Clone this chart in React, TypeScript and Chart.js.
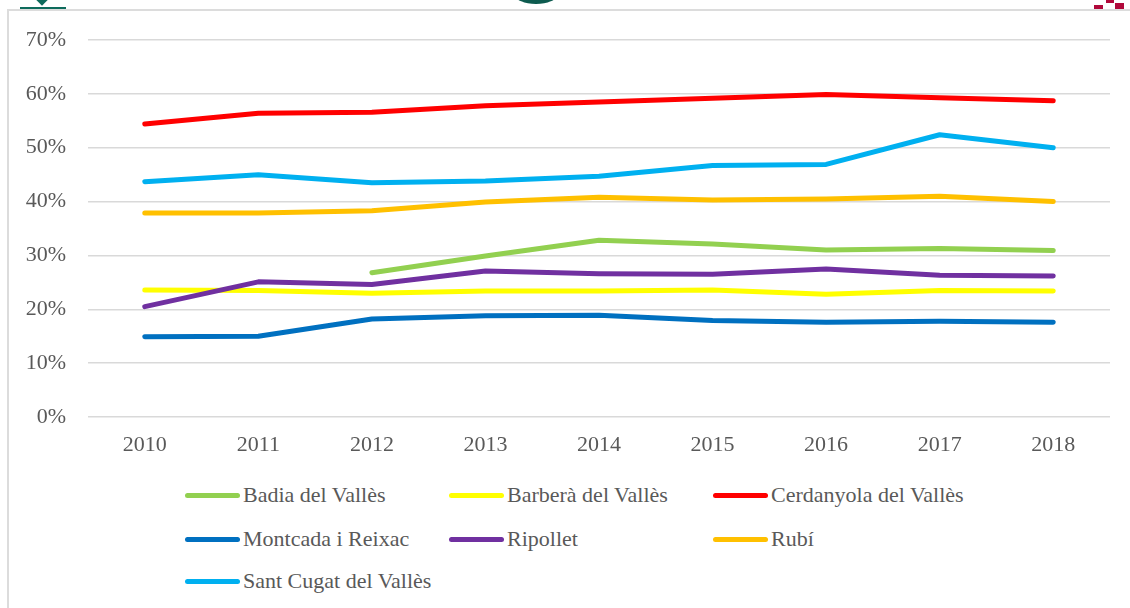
import React, { useEffect, useRef } from "react";
import { Chart, registerables } from "chart.js";

Chart.register(...registerables);

const years = ["2010", "2011", "2012", "2013", "2014", "2015", "2016", "2017", "2018"];

const badia = [null, null, 26.8, 29.9, 32.8, 32.1, 31.0, 31.3, 30.9];
const barbera = [23.6, 23.5, 23.0, 23.4, 23.4, 23.6, 22.8, 23.5, 23.4];
const cerdanyola = [54.4, 56.4, 56.6, 57.8, 58.5, 59.2, 59.9, 59.3, 58.7];
const montcada = [14.9, 15.0, 18.2, 18.8, 18.9, 17.9, 17.6, 17.8, 17.6];
const ripollet = [20.5, 25.1, 24.6, 27.1, 26.6, 26.5, 27.5, 26.3, 26.2];
const rubi = [37.9, 37.9, 38.3, 39.9, 40.8, 40.3, 40.5, 41.0, 40.0];
const santCugat = [43.7, 45.0, 43.5, 43.8, 44.7, 46.7, 46.9, 52.4, 50.0];

const seriesNames = [
  "Badia del Vallès",
  "Barberà del Vallès",
  "Cerdanyola del Vallès",
  "Montcada i Reixac",
  "Ripollet",
  "Rubí",
  "Sant Cugat del Vallès",
];
const seriesValues = [badia, barbera, cerdanyola, montcada, ripollet, rubi, santCugat];
const seriesColors = ["#92D050", "#FFFF00", "#FF0000", "#0070C0", "#7030A0", "#FFC000", "#00B0F0"];

const yTicks = [0, 10, 20, 30, 40, 50, 60, 70];

const FONT = "'Liberation Serif', 'Times New Roman', serif";
const TEXT = "#595959";

export default function App() {
  const ref = useRef<HTMLCanvasElement | null>(null);

  useEffect(() => {
    document.documentElement.style.overflow = "hidden";
    document.body.style.overflow = "hidden";
    const canvas = ref.current;
    if (!canvas) return;
    const chart = new Chart(canvas, {
      type: "line",
      data: {
        labels: years,
        datasets: seriesNames.map((name, i) => ({
          label: name,
          data: seriesValues[i].map((v) => (v === null ? null : v / 100)),
          borderColor: seriesColors[i],
          backgroundColor: seriesColors[i],
          borderWidth: 5,
          borderCapStyle: "round" as const,
          borderJoinStyle: "round" as const,
          pointRadius: 0,
          pointHoverRadius: 0,
          tension: 0,
          fill: false,
          order: seriesNames.length - 1 - i,
        })),
      },
      options: {
        responsive: false,
        animation: false,
        layout: { padding: { left: 0, right: 20, top: 39, bottom: 0 } },
        plugins: {
          legend: { display: false },
          tooltip: { enabled: false },
        },
        scales: {
          x: {
            type: "category",
            offset: true,
            grid: { display: false, drawTicks: false },
            border: { display: false },
            ticks: {
              font: { family: FONT, size: 22 },
              color: TEXT,
              padding: 15,
              maxRotation: 0,
            },
            afterFit: (s: any) => {
              s.height = 44;
            },
          },
          y: {
            min: 0,
            max: 0.7,
            afterBuildTicks: (s: any) => {
              s.ticks = yTicks.map((t) => ({ value: t / 100 }));
            },
            grid: { color: "#D9D9D9", lineWidth: 1.5, drawTicks: false },
            border: { display: false },
            ticks: {
              font: { family: FONT, size: 22 },
              color: TEXT,
              padding: 22,
              callback: (v: any) => Math.round(Number(v) * 100) + "%",
            },
            afterFit: (s: any) => {
              s.width = 88;
            },
          },
        },
      },
    });
    return () => chart.destroy();
  }, []);

  const legendCols = [185, 449, 713];
  const legendRows = [495, 539, 581];

  return (
    <div style={{ position: "fixed", left: 0, top: 0, width: 1130, height: 608, overflow: "hidden", background: "#fff" }}>
      {/* cropped logos at the top edge */}
      <div style={{ position: "absolute", left: 20, top: 7, width: 46, height: 3, background: "#0E6B5C" }} />
      <div style={{ position: "absolute", left: 38, top: -4, width: 8, height: 8, background: "#0E6B5C", transform: "rotate(45deg)" }} />
      <div style={{ position: "absolute", left: 515, top: -14, width: 42, height: 18, borderRadius: "50%", background: "#0D5B4F" }} />
      <div style={{ position: "absolute", left: 1094, top: 5, width: 9, height: 5, background: "#B0083A" }} />
      <div style={{ position: "absolute", left: 1106, top: 0, width: 8, height: 3, background: "#B0083A" }} />
      <div style={{ position: "absolute", left: 1115, top: 3, width: 9, height: 7, background: "#B0083A" }} />
      {/* frame */}
      <div style={{ position: "absolute", left: 7, top: 9, width: 1300, height: 800, border: "2px solid #DCDCDC", background: "#fff" }} />
      <canvas ref={ref} width={1130} height={460} style={{ position: "absolute", left: 0, top: 1, width: 1130, height: 460 }} />
      {seriesNames.map((name, i) => {
        const col = i % 3;
        const row = Math.floor(i / 3);
        const x = legendCols[col];
        const y = legendRows[row];
        return (
          <React.Fragment key={name}>
            <div
              style={{
                position: "absolute",
                left: x,
                top: y - 2.5,
                width: 55,
                height: 5,
                borderRadius: 3,
                background: seriesColors[i],
              }}
            />
            <div
              style={{
                position: "absolute",
                left: x + 58,
                top: y - 14,
                height: 28,
                lineHeight: "28px",
                fontFamily: FONT,
                fontSize: 22,
                color: TEXT,
                whiteSpace: "nowrap",
              }}
            >
              {name}
            </div>
          </React.Fragment>
        );
      })}
    </div>
  );
}
